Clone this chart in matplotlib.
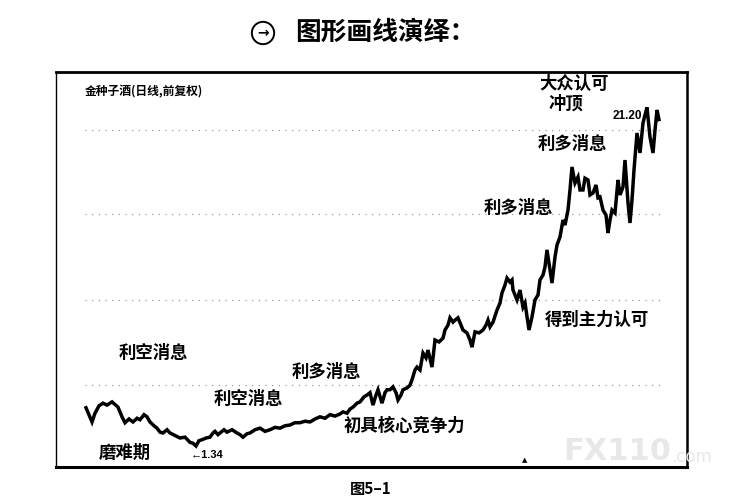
import matplotlib
matplotlib.use("Agg")
import matplotlib.pyplot as plt

plt.rcParams['font.family'] = ['Noto Sans CJK SC', 'DejaVu Sans']

# ---- data: trading-day index and closing price (log scale) ----
day = [2, 14, 20, 28, 36, 44, 54, 66, 74, 80, 88, 96, 104, 110, 118, 124, 130, 138,
       144, 150, 156, 164, 170, 180, 190, 200, 210, 216, 222, 228, 234, 242, 250, 256,
       260, 266, 270, 278, 284, 294, 304, 310, 316, 324, 330, 340, 350, 360, 370, 380,
       390, 400, 410, 420, 430, 440, 450, 460, 470, 480, 490, 500, 510, 516, 524, 530,
       536, 544, 550, 558, 564, 570, 576, 582, 586, 594, 600, 604, 610, 616, 622, 626,
       632, 636, 644, 650, 654, 660, 664, 670, 676, 682, 686, 694, 700, 708, 716, 720,
       726, 730, 736, 740, 746, 752, 756, 764, 770, 774, 780, 788, 796, 802, 806, 810,
       816, 824, 830, 834, 840, 844, 850, 854, 856, 864, 870, 876, 880, 884, 888, 894,
       900, 906, 910, 916, 920, 924, 930, 934, 940, 944, 950, 956, 960, 966, 970, 974,
       980, 986, 990, 996, 1000, 1006, 1010, 1016, 1022, 1026, 1030, 1036, 1042, 1046,
       1050, 1054, 1060, 1066, 1070, 1076, 1080, 1086, 1090, 1094, 1098, 1104, 1110,
       1116, 1120, 1124, 1130, 1136, 1140, 1144, 1148]
close = [1.83, 1.63, 1.75, 1.86, 1.90, 1.87, 1.92, 1.84, 1.70, 1.62, 1.67, 1.63, 1.68,
         1.66, 1.73, 1.70, 1.63, 1.58, 1.55, 1.50, 1.49, 1.53, 1.49, 1.46, 1.43, 1.44,
         1.38, 1.37, 1.34, 1.40, 1.41, 1.43, 1.44, 1.49, 1.51, 1.47, 1.49, 1.53, 1.50,
         1.53, 1.49, 1.47, 1.44, 1.48, 1.49, 1.53, 1.55, 1.51, 1.53, 1.56, 1.55, 1.58,
         1.59, 1.62, 1.62, 1.64, 1.63, 1.67, 1.70, 1.68, 1.73, 1.71, 1.74, 1.77, 1.75,
         1.81, 1.84, 1.90, 1.92, 2.00, 2.03, 2.07, 1.87, 2.03, 2.12, 1.90, 2.07, 2.12,
         2.12, 2.17, 2.07, 1.95, 2.03, 2.12, 2.15, 2.20, 2.30, 2.49, 2.55, 2.49, 2.86,
         2.75, 2.93, 2.55, 3.18, 3.13, 3.23, 3.45, 3.59, 3.81, 3.68, 3.74, 3.81, 3.59,
         3.45, 3.37, 3.18, 3.00, 3.40, 3.37, 3.45, 3.59, 3.74, 3.54, 3.68, 4.06, 4.30,
         4.67, 4.98, 5.27, 5.10, 5.19, 4.78, 4.41, 4.78, 4.16, 4.30, 3.84, 3.45, 3.84,
         4.41, 4.59, 5.19, 5.40, 5.77, 6.63, 5.63, 5.06, 6.26, 6.90, 7.37, 8.46, 8.12,
         9.18, 10.81, 13.04, 11.44, 12.02, 10.81, 10.81, 11.90, 11.73, 10.38, 10.55,
         11.26, 10.14, 10.21, 9.18, 8.81, 7.61, 8.46, 9.18, 8.96, 11.73, 10.38, 11.08,
         13.80, 9.72, 8.26, 9.96, 12.72, 17.20, 14.62, 18.66, 19.93, 21.20, 16.65,
         14.62, 17.60, 20.75, 19.20]
grid_levels = [2.20, 4.41, 8.88, 17.6]
low_label = "←1.34"
high_label = "21.20"
stock_title = "金种子酒(日线,前复权)"

W, H = 754, 503
fig = plt.figure(figsize=(W / 100, H / 100), dpi=100)
fig.patch.set_facecolor('white')

def px(x, y):
    return x / W, 1 - y / H

# chart frame 56..687 x, 72..467 y
ax = fig.add_axes([56 / W, 1 - 467 / H, (687 - 56) / W, (467 - 72) / H])
ax.set_yscale('log', base=2)
ax.set_xlim(-58, 1204)
ax.set_ylim(1.129, 28.29)
ax.set_xticks([])
ax.set_yticks([])
ax.minorticks_off()
for s in ax.spines.values():
    s.set_color('black')
    s.set_linewidth(1.2)
ax.spines['top'].set_linewidth(2.0)
ax.spines['bottom'].set_linewidth(2.2)
ax.spines['right'].set_linewidth(1.8)
ax.spines['left'].set_linewidth(1.0)

for g in grid_levels:
    ax.plot([0, 1150], [g, g], color='#8a8a8a', lw=0.8, ls=(0, (1, 5)), zorder=1)

ax.plot(day, close, color='black', lw=2.5, solid_joinstyle='miter', zorder=3)

# labels
lab = dict(fontsize=12.5, color='black', ha='center', va='center', fontweight='bold')
fig.text(*px(574, 84), "大众认可", **lab)
fig.text(*px(566, 104), "冲顶", **lab)
fig.text(*px(572, 144), "利多消息", **lab)
fig.text(*px(518, 208), "利多消息", **lab)
fig.text(*px(597, 320), "得到主力认可", **lab)
fig.text(*px(326, 372), "利多消息", **lab)
fig.text(*px(153, 353), "利空消息", **lab)
fig.text(*px(248, 399), "利空消息", **lab)
fig.text(*px(404, 426), "初具核心竞争力", **lab)
fig.text(*px(125, 453), "磨难期", **lab)

fig.text(*px(207, 455), low_label, fontsize=8, fontweight='bold', ha='center', va='center',
         family=['Liberation Sans', 'DejaVu Sans'])
fig.text(*px(627, 116), high_label, fontsize=8.5, fontweight='bold', ha='center', va='center',
         family=['Liberation Sans', 'DejaVu Sans'], zorder=5)
fig.text(*px(85, 92), stock_title, fontsize=8.5, fontweight='bold', ha='left', va='center')
fig.text(*px(525, 460), "▲", fontsize=5, ha='center', va='center', family=['DejaVu Sans'])

# title
fig.text(*px(263, 33), "→", fontsize=10, ha='center', va='center', fontweight='bold',
         family=['DejaVu Sans'],
         bbox=dict(boxstyle='circle,pad=0.3', fc='white', ec='black', lw=1.4))
fig.text(*px(385, 32), "图形画线演绎：", fontsize=18.5, fontweight='bold', ha='center', va='center')

# caption
fig.text(*px(371, 489), "图5–1", fontsize=11, fontweight='bold', ha='center', va='center')

# watermark
fig.text(*px(617, 451), "FX110", fontsize=22, fontweight='bold', color='#e8e8e8',
         ha='center', va='center', family=['DejaVu Sans'], zorder=0)
fig.text(*px(692, 457), ".com", fontsize=12, color='#e8e8e8',
         ha='center', va='center', family=['DejaVu Sans'], zorder=0)

fig.savefig("out.png", dpi=100, facecolor='white')
